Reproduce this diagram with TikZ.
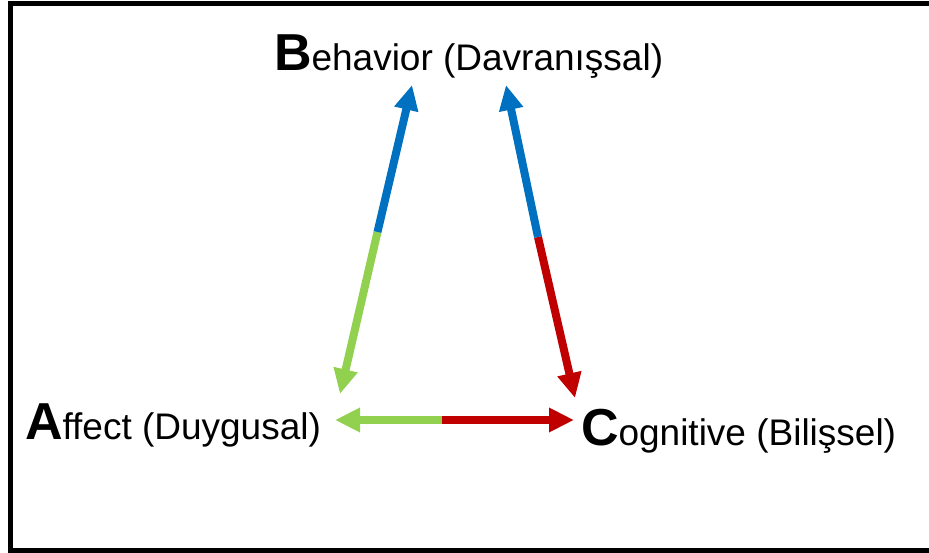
\documentclass[tikz,border=0pt]{standalone}
\usepackage{fontspec}
\setmainfont{Liberation Sans}
\usetikzlibrary{arrows.meta}
\definecolor{cblue}{HTML}{0070C0}
\definecolor{cgreen}{HTML}{92D050}
\definecolor{cred}{HTML}{C00000}
\newcommand{\bigletter}[1]{{\fontsize{52}{52}\selectfont\bfseries #1}}
\newcommand{\resttext}[1]{{\fontsize{37}{37}\selectfont #1}}
\begin{document}
\begin{tikzpicture}[x=1pt,y=-1pt,
  label/.style={anchor=base west,inner sep=0pt,outer sep=0pt},
  half/.style={line width=8pt,-{Triangle[length=25pt,width=23pt]}}]
\useasboundingbox (0,0) rectangle (929,553);
\draw[line width=5pt] (10.5,4) rectangle (945,550);
\node[label] (B) at (274,71) {\bigletter{B}\resttext{ehavior (Davranışsal)}};
\node[label] (A) at (25,439) {\bigletter{A}\resttext{ffect (Duygusal)}};
\node[label] (C) at (581,445) {\bigletter{C}\resttext{ognitive (Bilişsel)}};
% arrow end points
\coordinate (ABa) at (340,394);
\coordinate (ABb) at (412,85);
\coordinate (ABm) at (377.5,232);
\coordinate (CBc) at (575,398);
\coordinate (CBb) at (506,85);
\coordinate (CBm) at (538,237);
\coordinate (ACa) at (335,420);
\coordinate (ACc) at (574,420);
\coordinate (ACm) at (442,420);
\draw[half,cgreen] (ABm) -- (ABa);
\draw[half,cblue] (ABm) -- (ABb);
\draw[half,cred] (CBm) -- (CBc);
\draw[half,cblue] (CBm) -- (CBb);
\draw[half,cgreen] (ACm) -- (ACa);
\draw[half,cred] (ACm) -- (ACc);
\end{tikzpicture}
\end{document}
